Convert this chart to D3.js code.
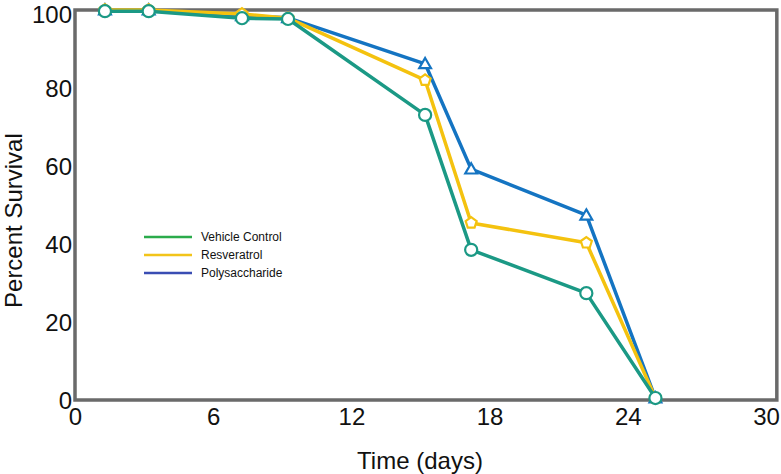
<!DOCTYPE html>
<html>
<head>
<meta charset="utf-8">
<script src="https://cdn.jsdelivr.net/npm/d3@7"></script>
<style>
  html, body { margin: 0; padding: 0; background: #fff; }
  svg { display: block; }
  text { font-family: "Liberation Sans", Arial, Helvetica, sans-serif; fill: #111; }
</style>
</head>
<body>
<svg id="chart" width="781" height="474"></svg>
<script>
// ---- data ----
const days = [1.3, 3.2, 7.25, 9.25, 15.2, 17.2, 22.2, 25.2];
const vehicleControl = [99.7, 99.7, 97.9, 97.7, 73.1, 38.5, 27.4, 0.5];
const resveratrol    = [100, 100, 99.0, 97.9, 82.0, 45.4, 40.3, 0.5];
const polysaccharide = [100, 100, 98.5, 98.0, 86.2, 59.2, 47.4, 0.5];
const seriesNames = ["Vehicle Control", "Resveratrol", "Polysaccharide"];
const xTicks = [0, 6, 12, 18, 24, 30];
const yTicks = [0, 20, 40, 60, 80, 100];

const lineColors = { "Vehicle Control": "#1b9985", "Resveratrol": "#f4c20f", "Polysaccharide": "#1474c2" };
const legendColors = { "Vehicle Control": "#2bab4b", "Resveratrol": "#f2c41a", "Polysaccharide": "#3a4db3" };

const svg = d3.select("#chart");
const x = d3.scaleLinear().domain([0, 30]).range([75, 766]);
const y = d3.scaleLinear().domain([0, 100]).range([400, 10]);

// frame
svg.append("rect")
  .attr("x", x(0)).attr("y", y(100))
  .attr("width", x(30.47) - x(0)).attr("height", y(0) - y(100))
  .attr("fill", "none").attr("stroke", "#6a6a6a").attr("stroke-width", 3.5);

// axes (labels only)
const xAxis = svg.append("g").attr("transform", `translate(0,${y(0) + 5})`)
  .call(d3.axisBottom(x).tickValues(xTicks).tickSize(0).tickPadding(0));
xAxis.select(".domain").remove();
xAxis.selectAll("text").attr("font-size", 24).attr("dy", "0.85em")
  .style("font-family", "'Liberation Sans', Arial, sans-serif").attr("fill", "#111");

const yAxis = svg.append("g").attr("transform", `translate(${x(0) - 3},0)`)
  .call(d3.axisLeft(y).tickValues(yTicks).tickSize(0).tickPadding(0));
yAxis.select(".domain").remove();
yAxis.selectAll("text").attr("font-size", 24)
  .attr("dy", d => d === 100 ? "0.5em" : "0.35em")
  .style("font-family", "'Liberation Sans', Arial, sans-serif").attr("fill", "#111");

// titles
svg.append("text").attr("x", 420).attr("y", 469).attr("text-anchor", "middle")
  .attr("font-size", 24).text("Time (days)");
svg.append("text").attr("transform", `translate(22,${y(46)}) rotate(-90)`)
  .attr("text-anchor", "middle").attr("font-size", 24).text("Percent Survival");

const seriesData = {
  "Vehicle Control": vehicleControl,
  "Resveratrol": resveratrol,
  "Polysaccharide": polysaccharide
};
const line = d3.line().x(d => x(d[0])).y(d => y(d[1]));

const markerPath = {
  "Polysaccharide": d3.symbol().type(d3.symbolTriangle).size(60)(),
  "Resveratrol": (() => {
    const r = 5.8, pts = [];
    for (let i = 0; i < 5; i++) {
      const a = -Math.PI / 2 + i * 2 * Math.PI / 5;
      pts.push([r * Math.cos(a), r * Math.sin(a)]);
    }
    return "M" + pts.map(p => p.join(",")).join("L") + "Z";
  })(),
  "Vehicle Control": d3.symbol().type(d3.symbolCircle).size(115)()
};

["Polysaccharide", "Resveratrol", "Vehicle Control"].forEach(name => {
  const pts = days.map((d, i) => [d, seriesData[name][i]]);
  const g = svg.append("g");
  g.append("path").datum(pts).attr("d", line)
    .attr("fill", "none").attr("stroke", lineColors[name])
    .attr("stroke-width", 3.5).attr("stroke-linejoin", "round");
  g.selectAll("path.m").data(pts).enter().append("path").attr("class", "m")
    .attr("d", markerPath[name])
    .attr("transform", d => `translate(${x(d[0])},${y(d[1]) + (name === "Polysaccharide" ? 1 : 0)})`)
    .attr("fill", "#fff").attr("stroke", lineColors[name]).attr("stroke-width", 2.2);
});

// legend
const lg = svg.append("g").attr("transform", "translate(144,237)");
seriesNames.forEach((name, i) => {
  lg.append("line").attr("x1", 0).attr("x2", 48).attr("y1", i * 18).attr("y2", i * 18)
    .attr("stroke", legendColors[name]).attr("stroke-width", 2.5);
  lg.append("text").attr("x", 57).attr("y", i * 18).attr("dy", "0.35em")
    .attr("font-size", 12).text(name);
});
</script>
</body>
</html>
